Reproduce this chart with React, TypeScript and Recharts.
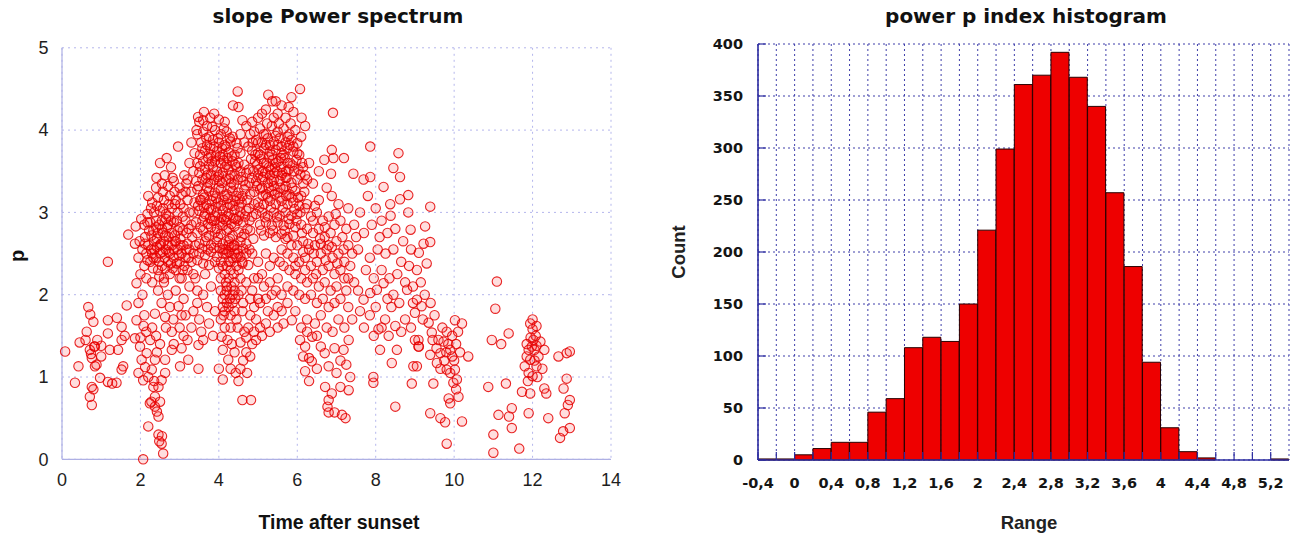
import { Bar, CartesianGrid, ComposedChart, Scatter, ScatterChart, XAxis, YAxis } from "recharts";

type Pt = [number, number];

// left panel: p index vs time after sunset
const timeTicks = [0, 2, 4, 6, 8, 10, 12, 14];
const pTicks = [0, 1, 2, 3, 4, 5];

const eveningPoints: Pt[] = [
  [0.08, 1.31], [0.33, 0.93], [0.42, 1.13], [0.45, 1.42], [0.63, 1.55], [0.67, 1.85], [0.72, 1.76], [0.71, 1.33],
  [0.76, 1.23], [0.74, 1.28], [0.8, 1.67], [0.84, 1.13], [0.82, 1.37], [0.76, 0.88], [0.8, 0.85], [0.71, 0.76],
  [0.76, 0.66], [0.9, 1.45], [0.97, 0.99], [1.0, 1.38], [1.17, 1.69], [1.4, 1.72], [1.17, 1.53], [1.52, 1.61],
  [1.52, 1.45], [1.22, 1.33], [1.43, 1.33], [1.56, 1.13], [1.52, 1.09], [1.17, 0.94], [1.28, 0.92], [1.39, 0.93],
  [1.65, 1.87], [0.84, 1.37], [1.17, 2.4], [0.88, 1.15], [1.6, 1.5], [1.0, 1.25], [0.6, 1.45], [1.69, 2.73],
  [1.88, 2.83], [1.86, 2.62],
];

const twilightColumn: Pt[] = [
  [1.9, 2.14], [1.95, 1.9], [1.9, 1.69], [1.86, 1.47], [1.99, 1.37], [2.03, 1.21], [1.95, 1.05], [2.07, 0.96],
  [2.2, 1.0], [2.29, 1.09], [2.33, 0.88], [2.24, 0.68], [2.37, 0.64], [2.46, 0.52], [2.2, 0.4], [2.46, 0.3],
  [2.54, 0.19], [2.58, 0.07], [2.07, 0.0], [2.37, 0.76], [2.46, 0.88], [2.54, 0.96], [2.63, 1.05], [2.16, 1.29],
  [2.37, 1.21], [2.63, 1.21], [2.8, 1.33], [3.05, 1.35], [3.01, 1.13], [3.22, 1.21], [3.48, 1.39], [3.48, 1.1],
  [2.1, 1.75], [2.05, 2.0], [2.15, 1.55], [2.25, 1.45], [2.3, 1.6], [2.12, 1.12], [2.4, 1.5], [2.5, 1.4],
  [2.42, 0.58], [2.5, 0.7], [2.28, 0.7], [2.35, 0.95], [2.42, 1.3], [2.0, 1.48], [2.08, 1.62], [2.55, 0.28],
  [2.48, 0.22],
];

const lowBand: Pt[] = [
  [2.63, 1.73], [2.84, 1.7], [3.0, 1.6], [3.1, 1.5], [2.8, 1.55], [2.37, 1.77], [2.54, 1.9], [2.97, 1.86],
  [3.35, 1.8], [3.45, 1.9], [3.5, 1.7], [2.7, 2.0], [2.9, 2.05], [3.1, 1.95], [3.25, 2.1], [3.4, 2.2],
  [3.6, 2.0], [3.7, 1.85], [3.8, 2.1], [3.65, 2.25], [2.6, 2.15], [2.75, 1.85], [3.15, 1.75], [3.3, 1.6],
  [3.55, 1.55], [3.75, 1.65], [3.9, 1.8], [2.45, 2.05], [3.0, 2.2], [2.85, 1.4], [3.2, 1.45], [3.05, 1.75],
  [2.65, 1.6], [3.6, 1.45], [3.85, 1.5], [3.45, 2.05],
];

const firstBlob: Pt[] = [
  [2.0, 2.25], [2.15, 2.2], [2.3, 2.15], [2.45, 2.3], [2.6, 2.2], [2.75, 2.25], [2.9, 2.3], [3.05, 2.2],
  [3.2, 2.3], [3.35, 2.25], [2.1, 2.35], [2.25, 2.4], [2.4, 2.45], [2.55, 2.35], [2.7, 2.4], [2.85, 2.45],
  [3.0, 2.4], [3.15, 2.45], [3.3, 2.4], [1.95, 2.45], [2.05, 2.55], [2.2, 2.6], [2.35, 2.55], [2.5, 2.6],
  [2.65, 2.55], [2.8, 2.6], [2.95, 2.55], [3.1, 2.6], [3.25, 2.55], [3.4, 2.6], [2.12, 2.7], [2.28, 2.72],
  [2.42, 2.68], [2.58, 2.75], [2.72, 2.7], [2.88, 2.72], [3.02, 2.68], [3.18, 2.75], [3.32, 2.7], [1.98, 2.65],
  [2.1, 2.85], [2.25, 2.88], [2.4, 2.82], [2.55, 2.9], [2.7, 2.85], [2.85, 2.88], [3.0, 2.82], [3.15, 2.9],
  [3.3, 2.85], [2.18, 2.98], [2.35, 3.0], [2.5, 3.02], [2.65, 2.98], [2.8, 3.05], [2.95, 3.0], [3.1, 3.05],
  [3.25, 3.0], [2.02, 2.92], [2.3, 3.12], [2.45, 3.18], [2.6, 3.15], [2.75, 3.2], [2.9, 3.15], [3.05, 3.22],
  [3.2, 3.15], [2.4, 3.3], [2.55, 3.35], [2.7, 3.32], [2.85, 3.38], [3.0, 3.3], [2.62, 3.45], [2.5, 3.6],
  [2.67, 3.66], [2.96, 3.8], [2.41, 3.42], [2.78, 3.55], [3.12, 3.45], [2.2, 3.2], [2.5, 2.5], [2.6, 2.65],
  [2.7, 2.6], [2.8, 2.75], [2.55, 2.8], [2.65, 2.92], [2.9, 2.65], [2.45, 2.75], [2.75, 2.5], [2.62, 2.45],
  [2.35, 2.65], [2.95, 2.78], [2.52, 2.62], [2.68, 2.82], [2.85, 2.55], [2.4, 2.9], [2.3, 2.5], [3.05, 2.5],
  [2.22, 2.78], [2.58, 3.05], [2.72, 2.95], [2.88, 3.1], [3.08, 2.95], [3.2, 2.62], [2.15, 2.5], [2.32, 2.32],
  [2.48, 2.22], [2.82, 2.32], [3.12, 2.35], [2.98, 2.48], [2.18, 2.42], [2.33, 2.45], [2.48, 2.4], [2.63, 2.32],
  [2.78, 2.38], [2.93, 2.38], [3.08, 2.3], [3.23, 2.45], [2.12, 2.62], [2.27, 2.55], [2.42, 2.58], [2.57, 2.52],
  [2.72, 2.52], [2.87, 2.65], [3.02, 2.6], [3.17, 2.55], [3.35, 2.5], [2.18, 2.88], [2.33, 2.78], [2.48, 2.85],
  [2.63, 2.72], [2.78, 2.9], [2.93, 2.9], [3.08, 2.78], [3.23, 2.8], [2.27, 3.05], [2.42, 3.08], [2.57, 3.25],
  [2.72, 3.1], [2.87, 3.25], [3.02, 3.1], [3.17, 3.35], [2.82, 3.42],
];

const secondBlob: Pt[] = [
  [3.47, 4.16], [3.6, 4.12], [3.88, 4.2], [4.0, 4.13], [3.7, 4.05], [4.15, 4.1], [3.45, 3.95], [3.6, 3.98],
  [3.75, 3.92], [3.9, 4.0], [4.05, 3.95], [4.2, 3.98], [4.35, 3.92], [3.55, 3.85], [3.7, 3.82], [3.85, 3.88],
  [4.0, 3.85], [4.15, 3.82], [4.3, 3.86], [4.45, 3.84], [3.38, 3.72], [3.52, 3.7], [3.65, 3.75], [3.8, 3.7],
  [3.95, 3.74], [4.1, 3.7], [4.25, 3.73], [4.4, 3.7], [4.55, 3.72], [3.45, 3.6], [3.6, 3.62], [3.75, 3.58],
  [3.9, 3.62], [4.05, 3.6], [4.2, 3.58], [4.35, 3.62], [4.5, 3.6], [4.65, 3.58], [3.35, 3.5], [3.5, 3.48],
  [3.65, 3.52], [3.8, 3.46], [3.95, 3.5], [4.1, 3.48], [4.25, 3.52], [4.4, 3.46], [4.55, 3.5], [4.7, 3.48],
  [3.42, 3.38], [3.58, 3.4], [3.72, 3.36], [3.88, 3.4], [4.02, 3.38], [4.18, 3.4], [4.32, 3.36], [4.48, 3.4],
  [4.62, 3.38], [4.78, 3.36], [3.3, 3.25], [3.45, 3.28], [3.6, 3.22], [3.75, 3.26], [3.9, 3.24], [4.05, 3.28],
  [4.2, 3.22], [4.35, 3.26], [4.5, 3.24], [4.65, 3.28], [4.8, 3.22], [3.38, 3.12], [3.52, 3.15], [3.68, 3.1],
  [3.82, 3.14], [3.98, 3.12], [4.12, 3.15], [4.28, 3.1], [4.42, 3.14], [4.58, 3.12], [4.72, 3.15], [3.35, 3.0],
  [3.5, 3.02], [3.65, 2.98], [3.8, 3.03], [3.95, 3.0], [4.1, 3.02], [4.25, 2.98], [4.4, 3.03], [4.55, 3.0],
  [4.7, 3.02], [3.42, 2.88], [3.58, 2.9], [3.72, 2.86], [3.88, 2.9], [4.02, 2.88], [4.18, 2.9], [4.32, 2.86],
  [4.48, 2.9], [4.62, 2.88], [4.78, 2.9], [3.45, 2.75], [3.6, 2.78], [3.75, 2.72], [3.9, 2.76], [4.05, 2.74],
  [4.2, 2.78], [4.35, 2.72], [4.5, 2.76], [4.65, 2.74], [3.5, 2.62], [3.65, 2.65], [3.8, 2.6], [3.95, 2.64],
  [4.1, 2.62], [4.25, 2.65], [4.4, 2.6], [4.55, 2.64], [4.7, 2.62], [3.5, 2.5], [3.65, 2.48], [3.8, 2.52],
  [3.95, 2.46], [4.1, 2.5], [4.25, 2.52], [4.4, 2.5], [4.55, 2.46], [4.7, 2.5], [3.6, 2.38], [3.75, 2.36],
  [3.9, 2.4], [4.0, 2.32], [4.6, 2.38], [4.75, 2.36], [3.45, 2.42], [3.7, 3.3], [3.85, 3.2], [4.0, 3.3],
  [4.15, 3.2], [4.3, 3.3], [4.45, 3.2], [3.75, 3.05], [3.9, 2.95], [4.05, 3.08], [4.2, 2.95], [4.35, 3.08],
  [3.8, 2.82], [3.95, 2.8], [4.1, 2.84], [4.25, 2.8], [4.4, 2.83], [3.7, 3.45], [3.85, 3.55], [4.0, 3.45],
  [4.15, 3.55], [4.3, 3.45], [4.45, 3.55], [3.62, 2.95], [4.52, 2.95], [3.55, 3.15], [4.6, 3.2], [3.92, 3.68],
  [4.08, 3.78], [4.22, 3.66], [3.78, 3.78], [3.43, 4.0], [3.5, 4.1], [4.48, 4.47], [4.36, 4.3], [4.5, 4.28],
  [4.6, 4.12], [4.7, 4.05], [3.62, 4.22], [3.78, 4.15], [4.55, 3.95], [4.65, 3.85], [3.3, 3.85], [3.25, 3.6],
  [3.2, 3.4], [3.15, 3.25], [3.52, 3.56], [3.67, 3.42], [3.82, 3.62], [3.97, 3.43], [4.12, 3.63], [4.27, 3.41],
  [4.42, 3.58], [4.57, 3.43], [3.48, 3.32], [3.63, 3.18], [3.78, 3.35], [3.93, 3.17], [4.08, 3.36], [4.23, 3.17],
  [4.38, 3.34], [4.53, 3.16], [4.68, 3.33], [3.47, 3.08], [3.62, 3.06], [3.77, 2.93], [3.92, 3.07], [4.07, 2.94],
  [4.22, 3.06], [4.37, 2.93], [4.52, 3.07], [4.67, 2.95], [3.53, 2.82], [3.68, 2.7], [3.83, 2.9], [3.98, 2.7],
  [4.13, 2.92], [4.28, 2.68], [4.43, 2.92], [4.58, 2.7], [4.73, 2.8], [3.57, 2.56], [3.72, 2.55], [3.87, 2.57],
  [4.02, 2.57], [4.17, 2.55], [4.32, 2.58], [4.47, 2.55], [4.62, 2.56], [3.58, 3.78], [3.73, 3.66], [3.88, 3.8],
  [4.03, 3.68], [4.18, 3.8], [4.33, 3.68], [4.48, 3.78], [3.68, 3.9], [3.83, 4.04], [3.98, 3.9], [4.13, 4.02],
  [4.28, 3.9],
];

const streakPoints: Pt[] = [
  [4.07, 1.49], [4.1, 1.33], [4.24, 1.21], [4.0, 1.1], [4.1, 0.97], [4.3, 1.1], [4.43, 1.05], [4.5, 0.95],
  [4.6, 0.72], [4.4, 1.3], [4.55, 1.42], [4.7, 1.48], [4.85, 1.4], [4.75, 1.6], [4.9, 1.85], [4.95, 1.7],
  [4.05, 1.7], [4.1, 1.85], [4.15, 2.0], [4.2, 2.1], [4.25, 2.2], [4.3, 2.3], [4.2, 1.9], [4.3, 1.75],
  [4.35, 2.0], [4.4, 2.15], [4.45, 2.35], [4.35, 2.45], [4.25, 2.4], [4.15, 2.25], [4.05, 2.05], [4.1, 2.35],
  [4.2, 2.5], [4.3, 1.6], [4.4, 1.8], [4.5, 2.0], [4.55, 2.2], [4.6, 2.4], [4.15, 1.6], [4.22, 1.45],
  [4.33, 1.4], [4.48, 1.6], [4.6, 1.8], [4.65, 1.55], [4.28, 1.95], [4.38, 2.25], [4.12, 1.75], [4.18, 2.15],
  [4.32, 2.1], [4.42, 1.95], [4.05, 2.4], [4.5, 2.3], [4.58, 2.05], [4.7, 1.3], [4.62, 1.2], [4.8, 1.25],
  [4.72, 1.05], [4.55, 1.1], [4.9, 1.55], [5.0, 1.95], [4.82, 0.72], [4.1, 1.95], [4.2, 2.05], [4.25, 1.85],
  [4.35, 1.9], [4.3, 2.4], [4.2, 2.35], [4.4, 2.05], [4.15, 1.8], [4.45, 2.45], [4.25, 2.6], [4.12, 2.55],
  [4.38, 2.6], [4.5, 2.5], [4.05, 2.2], [4.45, 1.7],
];

const thirdBlob: Pt[] = [
  [5.26, 4.43], [5.36, 4.35], [5.45, 4.35], [6.07, 4.5], [5.78, 4.28], [5.6, 4.3], [5.1, 4.2], [5.0, 4.15],
  [5.2, 4.25], [5.5, 4.2], [5.7, 4.15], [5.9, 4.22], [6.11, 4.15], [4.85, 4.1], [6.2, 4.05], [5.85, 4.4],
  [4.9, 3.98], [5.05, 4.02], [5.2, 3.95], [5.35, 4.05], [5.5, 3.98], [5.65, 4.02], [5.8, 3.95], [5.95, 4.0],
  [6.1, 3.92], [4.95, 3.88], [5.1, 3.85], [5.25, 3.9], [5.4, 3.86], [5.55, 3.9], [5.7, 3.85], [5.85, 3.88],
  [6.0, 3.84], [4.85, 3.75], [5.0, 3.72], [5.15, 3.78], [5.3, 3.74], [5.45, 3.76], [5.6, 3.72], [5.75, 3.78],
  [5.9, 3.74], [6.05, 3.7], [4.92, 3.62], [5.08, 3.65], [5.22, 3.6], [5.38, 3.64], [5.52, 3.62], [5.68, 3.66],
  [5.82, 3.6], [5.98, 3.64], [6.12, 3.6], [4.88, 3.5], [5.02, 3.52], [5.18, 3.48], [5.32, 3.52], [5.48, 3.5],
  [5.62, 3.48], [5.78, 3.52], [5.92, 3.5], [6.08, 3.46], [4.95, 3.38], [5.1, 3.4], [5.25, 3.36], [5.4, 3.4],
  [5.55, 3.38], [5.7, 3.42], [5.85, 3.36], [6.0, 3.4], [6.15, 3.35], [4.9, 3.25], [5.05, 3.28], [5.2, 3.22],
  [5.35, 3.26], [5.5, 3.24], [5.65, 3.28], [5.8, 3.22], [5.95, 3.26], [6.1, 3.2], [5.0, 3.12], [5.15, 3.1],
  [5.3, 3.14], [5.45, 3.1], [5.6, 3.14], [5.75, 3.1], [5.9, 3.12], [6.05, 3.08], [4.95, 2.98], [5.1, 3.0],
  [5.25, 2.96], [5.4, 3.0], [5.55, 2.96], [5.7, 3.0], [5.85, 2.96], [6.0, 2.98], [5.05, 2.85], [5.2, 2.88],
  [5.35, 2.84], [5.5, 2.88], [5.65, 2.84], [5.8, 2.86], [5.95, 2.82], [5.15, 2.72], [5.3, 2.75], [5.45, 2.7],
  [5.6, 2.74], [5.75, 2.7], [5.9, 2.72], [5.0, 3.45], [5.15, 3.6], [5.3, 3.45], [5.45, 3.6], [5.6, 3.45],
  [5.75, 3.6], [5.1, 3.3], [5.25, 3.18], [5.4, 3.32], [5.55, 3.18], [5.7, 3.32], [5.85, 3.18], [5.05, 3.7],
  [5.2, 3.82], [5.35, 3.7], [5.5, 3.82], [5.65, 3.7], [5.8, 3.82], [5.28, 3.55], [5.42, 3.48], [5.58, 3.55],
  [5.12, 3.5], [5.72, 3.5], [5.35, 3.38], [4.98, 3.58], [5.13, 3.43], [5.28, 3.67], [5.43, 3.55], [5.58, 3.66],
  [5.73, 3.42], [5.88, 3.57], [6.03, 3.52], [4.97, 3.32], [5.12, 3.2], [5.27, 3.3], [5.42, 3.22], [5.57, 3.3],
  [5.72, 3.2], [5.87, 3.3], [6.02, 3.18], [5.03, 3.06], [5.18, 2.94], [5.33, 3.06], [5.48, 2.94], [5.63, 3.06],
  [5.78, 2.92], [5.93, 3.04], [5.0, 3.85], [5.15, 3.95], [5.3, 3.82], [5.45, 3.93], [5.6, 3.8], [5.75, 3.92],
  [5.9, 3.8], [6.0, 3.72], [5.08, 2.78], [5.38, 2.78], [5.68, 2.78], [5.98, 2.9], [5.23, 4.08], [5.53, 4.08],
  [5.83, 4.08], [5.4, 4.15], [4.8, 3.95], [4.75, 3.8], [4.82, 3.65], [4.76, 3.52], [4.84, 3.42], [4.77, 3.05],
  [4.85, 2.95], [4.8, 2.78], [4.88, 2.68], [4.78, 2.55], [4.9, 3.1], [4.86, 3.85], [4.93, 3.7], [6.18, 3.25],
  [6.25, 3.4], [6.15, 3.55],
];

const midPoints: Pt[] = [
  [6.2, 3.05], [6.35, 2.95], [6.5, 3.0], [6.65, 2.9], [6.8, 2.95], [6.95, 2.85], [7.1, 2.9], [7.25, 2.8],
  [6.1, 2.85], [6.25, 2.8], [6.4, 2.75], [6.55, 2.8], [6.7, 2.7], [6.85, 2.75], [7.0, 2.65], [7.15, 2.7],
  [7.3, 2.6], [6.0, 2.6], [6.15, 2.65], [6.3, 2.55], [6.45, 2.6], [6.6, 2.5], [6.75, 2.55], [6.9, 2.45],
  [7.05, 2.5], [7.2, 2.4], [7.4, 2.5], [6.05, 2.4], [6.2, 2.45], [6.35, 2.35], [6.5, 2.4], [6.65, 2.3],
  [6.8, 2.35], [6.95, 2.25], [7.1, 2.3], [7.3, 2.2], [5.6, 2.55], [5.75, 2.5], [5.9, 2.45], [5.65, 2.35],
  [5.8, 2.3], [5.95, 2.25], [6.1, 2.2], [6.25, 2.15], [6.4, 2.2], [6.55, 2.1], [6.7, 2.15], [6.85, 2.05],
  [7.0, 2.1], [5.5, 2.2], [5.4, 2.45], [5.3, 2.35], [5.2, 2.5], [5.1, 2.25], [5.0, 2.4], [4.9, 2.2],
  [4.85, 2.5], [6.6, 2.62], [6.8, 2.6], [6.4, 2.9], [6.25, 3.1], [6.55, 3.15], [6.88, 3.2], [6.69, 3.64],
  [6.86, 3.47], [6.92, 3.66], [7.19, 3.66], [6.55, 3.5], [6.4, 3.35], [6.75, 3.3], [7.05, 3.1], [7.3, 3.05],
  [7.45, 2.85], [7.5, 2.7], [7.43, 3.47], [7.69, 3.4], [7.86, 3.43], [6.91, 4.21], [6.88, 3.76], [6.3, 3.6],
  [6.2, 3.45], [7.6, 3.0], [7.7, 2.75], [7.55, 2.55], [7.35, 2.35], [7.45, 2.15], [5.3, 2.15], [5.45, 2.05],
  [5.6, 2.0], [5.75, 2.1], [5.9, 2.05], [6.05, 2.0], [6.2, 1.95], [6.35, 2.0], [6.5, 1.9], [6.65, 1.95],
  [6.8, 1.85], [6.95, 1.9], [7.1, 1.95], [7.25, 2.05], [6.12, 2.75], [6.28, 2.62], [6.42, 2.5], [6.58, 2.68],
  [6.72, 2.42], [6.88, 2.58], [7.02, 2.38], [7.18, 2.55], [6.08, 3.0], [6.45, 3.08], [6.7, 2.82], [6.98, 2.98],
  [7.2, 2.2], [6.2, 2.3], [6.48, 2.25], [5.85, 2.6], [5.7, 2.68], [6.15, 2.52], [5.55, 2.4], [5.95, 2.35],
];

const lowMidPoints: Pt[] = [
  [4.7, 2.15], [4.85, 2.05], [5.0, 2.2], [5.15, 2.1], [5.05, 1.9], [4.8, 1.95], [5.2, 1.95], [5.35, 2.0],
  [5.5, 1.85], [5.25, 1.8], [5.4, 1.75], [5.6, 1.8], [5.75, 1.9], [5.86, 1.69], [5.95, 1.8], [6.07, 1.45],
  [6.2, 1.37], [6.3, 1.23], [6.2, 1.07], [6.37, 1.19], [6.38, 1.49], [6.6, 1.37], [6.7, 1.29], [6.8, 1.13],
  [7.0, 1.05], [7.1, 0.88], [6.71, 0.88], [6.8, 0.72], [6.77, 0.64], [6.8, 0.57], [6.95, 0.57], [6.1, 1.6],
  [6.25, 1.7], [6.45, 1.65], [6.6, 1.75], [6.75, 1.6], [6.9, 1.55], [7.05, 1.7], [7.2, 1.6], [7.31, 1.45],
  [7.18, 1.33], [6.5, 1.5], [6.15, 1.25], [6.25, 1.55], [5.2, 1.65], [5.05, 1.6], [4.95, 1.45], [5.1, 1.5],
  [5.3, 1.55], [5.5, 1.6], [5.65, 1.65], [4.8, 1.75], [4.62, 1.9], [7.3, 1.85], [7.4, 1.7], [7.31, 0.84],
  [7.14, 0.54], [7.23, 0.5], [6.88, 0.8], [7.1, 1.2], [7.25, 1.15], [7.35, 1.0], [6.95, 1.35], [6.5, 1.1],
  [6.3, 0.95],
];

const latePoints: Pt[] = [
  [7.86, 3.8], [8.58, 3.72], [8.45, 3.54], [8.62, 3.43], [8.2, 3.31], [8.83, 3.21], [8.62, 3.16], [8.37, 3.1],
  [9.39, 3.07], [8.83, 3.0], [9.26, 2.83], [9.39, 2.64], [9.22, 2.62], [9.3, 2.38], [8.89, 2.79], [9.1, 2.51],
  [8.38, 2.96], [7.8, 3.2], [8.0, 3.05], [8.15, 2.9], [7.9, 2.85], [8.1, 2.7], [8.3, 2.75], [8.5, 2.8],
  [8.7, 2.65], [8.9, 2.55], [8.05, 2.55], [8.25, 2.5], [8.45, 2.55], [8.65, 2.4], [8.85, 2.35], [9.05, 2.3],
  [7.85, 2.45], [7.75, 2.3], [7.95, 2.2], [8.15, 2.3], [8.35, 2.2], [8.55, 2.25], [8.75, 2.15], [8.95, 2.1],
  [9.15, 2.15], [7.86, 2.02], [7.69, 1.94], [8.03, 2.06], [8.2, 2.14], [8.24, 1.7], [8.07, 1.58], [8.33, 1.5],
  [8.5, 1.62], [8.75, 1.7], [9.0, 1.78], [9.17, 1.86], [9.05, 1.94], [8.8, 2.06], [9.35, 1.66], [9.43, 1.54],
  [9.0, 1.45], [9.1, 1.37], [7.7, 1.6], [7.85, 1.75], [7.95, 1.5], [8.4, 1.85], [8.6, 1.9], [8.3, 1.95],
  [8.65, 1.55], [8.9, 1.6], [9.25, 2.0], [9.4, 1.9], [9.5, 1.75], [7.6, 1.8], [7.55, 2.05], [8.0, 1.85],
  [8.45, 2.0], [8.95, 1.9], [9.2, 1.7], [8.15, 1.6],
];

const midnightPoints: Pt[] = [
  [10.02, 1.69], [10.2, 1.65], [9.81, 1.55], [9.73, 1.43], [9.9, 1.33], [9.65, 1.29], [9.39, 1.27], [9.56, 1.17],
  [9.81, 1.09], [10.02, 1.09], [10.07, 0.97], [9.98, 0.93], [10.36, 1.25], [10.11, 0.76], [9.86, 0.74], [9.9, 0.68],
  [10.2, 0.46], [9.81, 0.19], [9.65, 0.5], [9.77, 0.45], [9.39, 0.56], [9.09, 1.37], [9.09, 1.45], [8.96, 1.13],
  [9.05, 1.13], [9.47, 0.92], [8.92, 0.92], [8.5, 0.64], [7.94, 1.0], [7.94, 0.93], [8.41, 1.17], [8.54, 1.33],
  [8.11, 1.33], [9.6, 1.45], [9.75, 1.2], [9.85, 1.4], [9.95, 1.25], [10.05, 1.4], [10.1, 1.55], [9.7, 1.6],
  [9.9, 1.05], [10.0, 1.2], [9.55, 1.35], [9.95, 1.5], [9.8, 1.3], [10.15, 1.3], [9.65, 1.1], [9.45, 1.45],
  [10.05, 0.85],
];

const nightCluster: Pt[] = [
  [11.09, 2.16], [11.05, 1.83], [10.96, 1.45], [11.39, 1.53], [11.2, 1.4], [11.94, 1.65], [12.0, 1.58], [12.1, 1.62],
  [11.98, 1.37], [12.05, 1.33], [11.9, 1.33], [12.2, 1.43], [12.3, 1.33], [11.85, 1.25], [11.94, 1.21], [12.1, 1.13],
  [11.8, 1.13], [11.9, 1.05], [12.0, 1.01], [11.73, 0.82], [11.94, 0.8], [12.3, 0.86], [12.35, 0.8], [12.66, 1.25],
  [12.87, 1.29], [12.95, 1.31], [12.87, 0.98], [12.79, 0.86], [12.95, 0.72], [12.9, 0.66], [12.82, 0.56], [12.78, 0.34],
  [12.7, 0.26], [12.95, 0.38], [12.4, 0.5], [11.9, 0.56], [11.47, 0.62], [11.4, 0.52], [11.47, 0.38], [11.13, 0.54],
  [11.0, 0.3], [11.0, 0.08], [11.66, 0.13], [10.87, 0.88], [11.32, 0.92], [12.02, 1.45], [12.08, 1.5], [11.95, 1.48],
  [12.15, 1.25], [12.05, 1.2], [11.85, 1.4], [12.25, 1.1], [12.12, 1.0], [11.88, 0.95], [12.0, 1.7], [12.1, 1.38],
];

const scatterData = [
  ...eveningPoints, ...twilightColumn, ...lowBand, ...firstBlob, ...secondBlob, ...streakPoints,
  ...thirdBlob, ...midPoints, ...lowMidPoints, ...latePoints, ...midnightPoints, ...nightCluster,
].map(([t, p]) => ({ t, p }));

// right panel: histogram of p, 0.2 wide bins
const rangeTicks = [
  -0.4, -0.2, 0, 0.2, 0.4, 0.6, 0.8, 1.0, 1.2, 1.4, 1.6, 1.8, 2.0, 2.2, 2.4,
  2.6, 2.8, 3.0, 3.2, 3.4, 3.6, 3.8, 4.0, 4.2, 4.4, 4.6, 4.8, 5.0, 5.2,
];
const rangeTickLabels = ["-0,4", "0", "0,4", "0,8", "1,2", "1,6", "2", "2,4", "2,8", "3,2", "3,6", "4", "4,4", "4,8", "5,2"];
const binCounts = [1, 1, 5, 11, 17, 17, 46, 59, 108, 118, 114, 150, 221, 299, 361, 370, 392, 368, 340, 257, 186, 94, 31, 8, 2, 0, 0, 0, 1];
const countTicks = [0, 50, 100, 150, 200, 250, 300, 350, 400];

const histData = rangeTicks.map((bin, i) => ({ bin, count: binCounts[i] }));

const sansFont = "'Liberation Sans', Arial, sans-serif";
const dejaFont = "'DejaVu Sans', Verdana, sans-serif";
const histBlue = "#2c2ca0";

const Ring = (props: any) => (
  <circle
    cx={props.cx}
    cy={props.cy}
    r={4.7}
    fill="#ff0000"
    fillOpacity={0.13}
    stroke="#e40000"
    strokeOpacity={0.85}
    strokeWidth={1.1}
  />
);

const RANGE_MARGIN = 17;
const COUNT_MARGIN = 15;

function RangeTick(props: any) {
  const { x, y, payload } = props;
  const idx = rangeTicks.findIndex((v) => Math.abs(v - payload.value) < 1e-6);
  const label = idx >= 0 && idx % 2 === 0 ? rangeTickLabels[idx / 2] : "";
  const axisY = y - RANGE_MARGIN;
  return (
    <g>
      <line x1={x} y1={axisY} x2={x} y2={axisY - 8} stroke={histBlue} strokeWidth={1.2} />
      {label && (
        <text x={x} y={y} dy="0.75em" textAnchor="middle" fontFamily={dejaFont} fontWeight="bold" fontSize={14.5} fill="#151515">
          {label}
        </text>
      )}
    </g>
  );
}

function CountTick(props: any) {
  const { x, y, payload } = props;
  const axisX = x + COUNT_MARGIN;
  return (
    <g>
      <line x1={axisX} y1={y} x2={axisX + 8} y2={y} stroke={histBlue} strokeWidth={1.2} />
      <text x={x} y={y} dy="0.36em" textAnchor="end" fontFamily={dejaFont} fontWeight="bold" fontSize={14.5} fill="#151515">
        {payload.value}
      </text>
    </g>
  );
}

const TopTick = (props: any) => (
  <line x1={props.x} y1={props.y} x2={props.x} y2={props.y + 8} stroke={histBlue} strokeWidth={1.2} />
);

const RightTick = (props: any) => (
  <line x1={props.x} y1={props.y} x2={props.x - 8} y2={props.y} stroke={histBlue} strokeWidth={1.2} />
);

export default function App() {
  const leftAxis = { stroke: "#aeb0e4", strokeWidth: 1.2 };
  const leftTick = { fontFamily: sansFont, fontSize: 18, fill: "#1e1e1e" };

  return (
    <div style={{ position: "absolute", left: 0, top: 0, width: 1304, height: 537, background: "#fff" }}>
      <div style={{ position: "absolute", left: 0, top: 0 }}>
        <ScatterChart width={640} height={537} margin={{ top: 47.8, right: 29, bottom: 37.7, left: 22 }}>
          <CartesianGrid stroke="#b4b6ec" strokeDasharray="2 4" />
          <XAxis
            dataKey="t"
            type="number"
            domain={[0, 14]}
            ticks={timeTicks}
            interval={0}
            height={40}
            tickLine={false}
            tickSize={0}
            tickMargin={14}
            axisLine={leftAxis}
            tick={leftTick}
          />
          <XAxis xAxisId="top" orientation="top" type="number" domain={[0, 14]} height={0} tick={false} tickLine={false} axisLine={leftAxis} />
          <YAxis
            dataKey="p"
            type="number"
            domain={[0, 5]}
            ticks={pTicks}
            interval={0}
            width={40}
            tickLine={false}
            tickSize={0}
            tickMargin={13.5}
            axisLine={leftAxis}
            tick={leftTick}
          />
          <YAxis yAxisId="right" orientation="right" type="number" domain={[0, 5]} width={0} tick={false} tickLine={false} axisLine={leftAxis} />
          <Scatter data={scatterData} shape={Ring} isAnimationActive={false} />
        </ScatterChart>
      </div>

      <div style={{ position: "absolute", left: 660, top: 0 }}>
        <ComposedChart
          width={644}
          height={537}
          data={histData}
          barCategoryGap={0}
          barGap={0}
          margin={{ top: 44, right: 15, bottom: 37, left: 38 }}
        >
          <CartesianGrid stroke="#3e3eaa" strokeDasharray="2 3" />
          <XAxis
            dataKey="bin"
            type="number"
            domain={[-0.4, 5.4]}
            ticks={rangeTicks}
            interval={0}
            allowDataOverflow
            height={40}
            tickLine={false}
            tickSize={0}
            tickMargin={RANGE_MARGIN}
            axisLine={{ stroke: histBlue, strokeWidth: 1.6 }}
            tick={(p: any) => <RangeTick {...p} />}
          />
          <XAxis xAxisId="cat" dataKey="bin" type="category" hide />
          <XAxis
            xAxisId="top"
            dataKey="bin"
            orientation="top"
            type="number"
            domain={[-0.4, 5.4]}
            ticks={rangeTicks}
            interval={0}
            allowDataOverflow
            height={0}
            tickLine={false}
            tickSize={0}
            tickMargin={0}
            axisLine={{ stroke: histBlue, strokeWidth: 1.6 }}
            tick={(p: any) => <TopTick {...p} />}
          />
          <YAxis
            dataKey="count"
            type="number"
            domain={[0, 400]}
            ticks={countTicks}
            interval={0}
            width={60}
            tickLine={false}
            tickSize={0}
            tickMargin={COUNT_MARGIN}
            axisLine={{ stroke: histBlue, strokeWidth: 1.6 }}
            tick={(p: any) => <CountTick {...p} />}
          />
          <YAxis
            yAxisId="right"
            dataKey="count"
            orientation="right"
            type="number"
            domain={[0, 400]}
            ticks={countTicks}
            interval={0}
            width={0}
            tickLine={false}
            tickSize={0}
            tickMargin={0}
            axisLine={{ stroke: histBlue, strokeWidth: 1.6 }}
            tick={(p: any) => <RightTick {...p} />}
          />
          <Bar xAxisId="cat" dataKey="count" fill="#ee0000" stroke="#2a0000" strokeWidth={1} isAnimationActive={false} />
        </ComposedChart>
      </div>

      <svg width={1304} height={537} style={{ position: "absolute", left: 0, top: 0, pointerEvents: "none" }}>
        <text x={338} y={22.5} textAnchor="middle" fontFamily={dejaFont} fontWeight="bold" fontSize={20} fill="#111">
          slope Power spectrum
        </text>
        <text x={1026} y={22.5} textAnchor="middle" fontFamily={dejaFont} fontWeight="bold" fontSize={20} fill="#111">
          power p index histogram
        </text>
        <text x={339} y={529} textAnchor="middle" fontFamily={sansFont} fontWeight="bold" fontSize={19.5} fill="#111">
          Time after sunset
        </text>
        <text transform="translate(17,256) rotate(-90)" textAnchor="middle" dominantBaseline="central" fontFamily={sansFont} fontWeight="bold" fontSize={20} fill="#111">
          p
        </text>
        <text x={1029} y={528.5} textAnchor="middle" fontFamily={sansFont} fontWeight="bold" fontSize={18.5} fill="#222">
          Range
        </text>
        <text transform="translate(678,252) rotate(-90)" textAnchor="middle" dominantBaseline="central" fontFamily={sansFont} fontWeight="bold" fontSize={18.5} fill="#222">
          Count
        </text>
      </svg>
    </div>
  );
}
